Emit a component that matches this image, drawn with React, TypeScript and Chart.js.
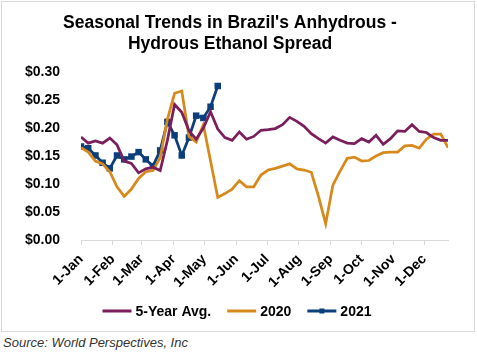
import React, { useEffect, useRef } from 'react';
import { Chart, registerables } from 'chart.js';

Chart.register(...registerables);

// ---- Data ----
const monthLabels = ['1-Jan', '1-Feb', '1-Mar', '1-Apr', '1-May', '1-Jun', '1-Jul', '1-Aug', '1-Sep', '1-Oct', '1-Nov', '1-Dec'];
const monthStartDays = [0, 31, 59, 90, 120, 151, 181, 212, 243, 273, 304, 334];
const weekStepDays = 7;

const seriesNames = ['5-Year Avg.', '2020', '2021'];
const seriesColors = ['#7A1F5C', '#D8891C', '#0B3F7C'];

const avg5yr = [
  0.184, 0.173, 0.177, 0.173, 0.182, 0.170, 0.141, 0.137, 0.120, 0.127,
  0.130, 0.124, 0.178, 0.242, 0.228, 0.195, 0.180, 0.200, 0.229, 0.198,
  0.183, 0.178, 0.193, 0.180, 0.185, 0.196, 0.197, 0.199, 0.206, 0.219,
  0.212, 0.203, 0.190, 0.181, 0.173, 0.184, 0.178, 0.173, 0.172, 0.181,
  0.175, 0.187, 0.171, 0.181, 0.195, 0.194, 0.206, 0.194, 0.192, 0.183,
  0.178, 0.178,
];

const y2020 = [
  0.165, 0.157, 0.141, 0.136, 0.122, 0.095, 0.078, 0.091, 0.110, 0.122,
  0.124, 0.147, 0.215, 0.262, 0.266, 0.185, 0.175, 0.206, 0.141, 0.076,
  0.083, 0.091, 0.106, 0.095, 0.095, 0.116, 0.125, 0.128, 0.132, 0.136,
  0.127, 0.125, 0.121, 0.078, 0.029, 0.098, 0.123, 0.146, 0.148, 0.141,
  0.142, 0.150, 0.156, 0.157, 0.157, 0.168, 0.169, 0.164, 0.180, 0.189,
  0.189, 0.165,
];

const y2021 = [
  0.167, 0.164, 0.151, 0.138, 0.128, 0.151, 0.144, 0.149, 0.157, 0.144,
  0.132, 0.160, 0.211, 0.187, 0.151, 0.183, 0.222, 0.218, 0.238, 0.275,
];

const yTickValues = [0, 0.05, 0.1, 0.15, 0.2, 0.25, 0.3];

const titleLines = ["Seasonal Trends in Brazil's Anhydrous -", 'Hydrous Ethanol Spread'];
const sourceText = 'Source: World Perspectives, Inc';

const FONT = '"Liberation Sans", Arial, Helvetica, sans-serif';

const toPoints = (arr: number[]) => arr.map((v, i) => ({ x: i * weekStepDays, y: v }));

const legendPlugin = {
  id: 'customLegend',
  afterDraw(chart: any) {
    const ctx = chart.ctx as CanvasRenderingContext2D;
    ctx.save();
    ctx.font = `bold 14px ${FONT}`;
    ctx.textBaseline = 'middle';
    ctx.textAlign = 'left';
    const lineLen = 29;
    const gap = 4;
    const spacing = 16;
    const widths = seriesNames.map((n) => lineLen + gap + ctx.measureText(n).width);
    const total = widths.reduce((a, b) => a + b, 0) + spacing * (seriesNames.length - 1);
    let x = chart.width / 2 - total / 2 - 1;
    const y = chart.height - 20;
    seriesNames.forEach((name, i) => {
      ctx.strokeStyle = seriesColors[i];
      ctx.lineWidth = 3;
      ctx.beginPath();
      ctx.moveTo(x, y);
      ctx.lineTo(x + lineLen, y);
      ctx.stroke();
      if (i === 2) {
        ctx.fillStyle = seriesColors[i];
        ctx.fillRect(x + lineLen / 2 - 2.5, y - 2.5, 5, 5);
      }
      ctx.fillStyle = '#000';
      ctx.fillText(name, x + lineLen + gap, y + 1);
      x += widths[i] + spacing;
    });
    ctx.restore();
  },
};

export default function App() {
  const canvasRef = useRef<HTMLCanvasElement | null>(null);

  useEffect(() => {
    document.body.style.margin = '0';
    const canvas = canvasRef.current;
    if (!canvas) return;
    const chart = new Chart(canvas, {
      type: 'line',
      data: {
        datasets: [
          {
            label: seriesNames[0],
            data: toPoints(avg5yr),
            borderColor: seriesColors[0],
            backgroundColor: seriesColors[0],
            borderWidth: 2.75,
            pointRadius: 0,
            tension: 0,
          },
          {
            label: seriesNames[1],
            data: toPoints(y2020),
            borderColor: seriesColors[1],
            backgroundColor: seriesColors[1],
            borderWidth: 2.75,
            pointRadius: 0,
            tension: 0,
          },
          {
            label: seriesNames[2],
            data: toPoints(y2021),
            borderColor: seriesColors[2],
            backgroundColor: seriesColors[2],
            borderWidth: 2.75,
            pointRadius: 4.6,
            pointStyle: 'rect',
            pointBorderWidth: 0,
            tension: 0,
          },
        ],
      },
      options: {
        animation: false,
        responsive: false,
        maintainAspectRatio: false,
        layout: { padding: { left: 10, right: 26, top: 0, bottom: 34 } },
        plugins: {
          legend: { display: false },
          tooltip: { enabled: false },
          title: {
            display: true,
            text: titleLines,
            color: '#000',
            font: { family: FONT, size: 17.5, weight: 'bold', lineHeight: 1.2 },
            padding: { top: 11, bottom: 17 },
          },
        },
        scales: {
          x: {
            type: 'linear',
            min: 0,
            max: (avg5yr.length - 1) * weekStepDays,
            afterBuildTicks: (scale: any) => {
              scale.ticks = monthStartDays.map((v) => ({ value: v }));
            },
            ticks: {
              autoSkip: false,
              minRotation: 45,
              maxRotation: 45,
              padding: 6,
              color: '#000',
              font: { family: FONT, size: 14, weight: 'bold' },
              callback: (_v: any, i: number) => monthLabels[i],
            },
            grid: {
              display: true,
              drawOnChartArea: false,
              drawTicks: true,
              tickLength: 5,
              color: '#d9d9d9',
            },
            border: { display: true, color: '#d9d9d9', width: 1 },
          },
          y: {
            min: 0,
            max: 0.3,
            afterBuildTicks: (scale: any) => {
              scale.ticks = yTickValues.map((v) => ({ value: v }));
            },
            ticks: {
              padding: 13,
              color: '#000',
              font: { family: FONT, size: 14, weight: 'bold' },
              callback: (v: any) => '$' + Number(v).toFixed(2),
            },
            grid: { display: false },
            border: { display: false },
          },
        },
      },
      plugins: [legendPlugin],
    } as any);
    return () => chart.destroy();
  }, []);

  return (
    <div style={{ position: 'relative', width: 477, height: 354, background: '#fff' }}>
      <div
        style={{
          position: 'absolute',
          left: 1,
          top: 1,
          width: 474,
          height: 331,
          boxSizing: 'border-box',
          border: '1px solid #d9d9d9',
        }}
      >
        <canvas ref={canvasRef} width={472} height={329} style={{ display: 'block' }} />
      </div>
      <div
        style={{
          position: 'absolute',
          left: 3,
          top: 335,
          fontFamily: FONT,
          fontStyle: 'italic',
          fontSize: 13,
          color: '#333',
          lineHeight: '16px',
          whiteSpace: 'nowrap',
        }}
      >
        {sourceText}
      </div>
    </div>
  );
}
